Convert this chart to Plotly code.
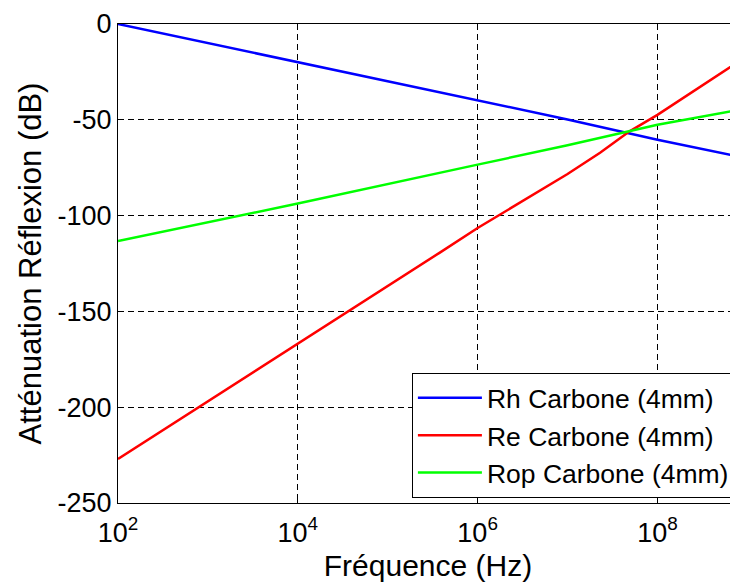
import plotly.graph_objects as go

# Frequencies (Hz) and attenuation values (dB)
freq_rh = [1e2, 1e4, 1e6, 1e7, 1e8, 8e8]
rh_db = [0, -20, -40, -49.8, -60.4, -69.2]

freq_re = [1e2, 1e3, 1e4, 1e5, 3.8e5, 1e6, 3.8e6, 1e7, 2.3e7, 4.9e7, 1e8, 8e8]
re_db = [-227, -197, -167, -137, -119.3, -106.5, -90, -78.3, -67.2, -56, -47.4, -19.6]

freq_rop = [1e2, 1e4, 1e6, 5e6, 1e7, 1e8, 8e8]
rop_db = [-113.3, -93.7, -73.4, -66.3, -63.3, -52.6, -44.8]

x_tick_vals = [1e2, 1e4, 1e6, 1e8]
x_tick_text = ["10<sup>2</sup>", "10<sup>4</sup>", "10<sup>6</sup>", "10<sup>8</sup>"]
y_tick_vals = [0, -50, -100, -150, -200, -250]
y_tick_text = ["0", "-50", "-100", "-150", "-200", "-250"]

names = ["Rh Carbone (4mm)", "Re Carbone (4mm)", "Rop Carbone (4mm)"]
colors = ["#0000FF", "#FF0000", "#00FF00"]

FONT = "Liberation Sans, Arial, sans-serif"

fig = go.Figure()
for fx, fy, nm, c in zip([freq_rh, freq_re, freq_rop], [rh_db, re_db, rop_db], names, colors):
    fig.add_trace(go.Scatter(x=fx, y=fy, mode="lines", name=nm,
                             line=dict(color=c, width=2.5)))

# page body adds an 8px offset; the figure is sized so the plot lands where the reference has it
fig.update_layout(
    width=730, height=576,
    margin=dict(l=110, r=0, t=16, b=81),
    paper_bgcolor="white", plot_bgcolor="white",
    font=dict(family=FONT, size=26, color="black"),
    showlegend=True,
    legend=dict(x=0.995, xanchor="right", y=0.2714, yanchor="top",
                bgcolor="white", bordercolor="black", borderwidth=1,
                font=dict(size=26.5, family=FONT), tracegroupgap=0,
                itemwidth=64),
)
fig.update_xaxes(
    type="log", range=[2, 8.896], automargin=False,
    tickvals=x_tick_vals, ticktext=x_tick_text,
    showline=True, linecolor="black", linewidth=1.2, mirror=True,
    ticks="inside", ticklen=6, tickcolor="black",
    showgrid=True, gridcolor="black", gridwidth=1, griddash="6px,4px",
    zeroline=False, ticklabelstandoff=5,
    tickfont=dict(size=27, family=FONT),
    title=dict(text="Fréquence (Hz)", font=dict(size=30, family=FONT), standoff=8),
)
fig.update_yaxes(
    range=[-250, 0], automargin=False,
    tickvals=y_tick_vals, ticktext=y_tick_text,
    showline=True, linecolor="black", linewidth=1.2, mirror=False,
    ticks="inside", ticklen=6, tickcolor="black",
    showgrid=True, gridcolor="black", gridwidth=1, griddash="6px,4px",
    zeroline=False,
    tickfont=dict(size=27, family=FONT),
    title=dict(text="Atténuation Réflexion (dB)", font=dict(size=31, family=FONT), standoff=6),
)

fig.write_html("out.html")
